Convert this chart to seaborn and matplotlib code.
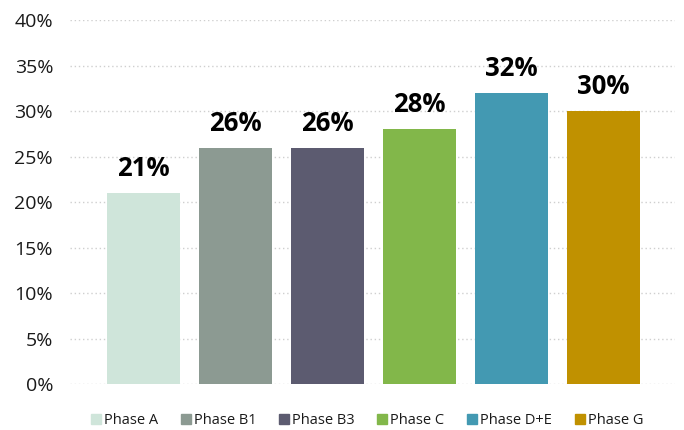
import matplotlib
matplotlib.use("Agg")
import matplotlib.pyplot as plt
import seaborn as sns
import pandas as pd
from matplotlib.lines import Line2D
from matplotlib.ticker import FuncFormatter

categories = ["Phase A", "Phase B1", "Phase B3", "Phase C", "Phase D+E", "Phase G"]
values = [21, 26, 26, 28, 32, 30]
colors = ["#CFE5DA", "#8C9A92", "#5C5B70", "#82B74A", "#4399B2", "#C09100"]
yticks = [0, 5, 10, 15, 20, 25, 30, 35, 40]

sns.set_style("white")
plt.rcParams["font.family"] = ["Open Sans", "DejaVu Sans"]

df = pd.DataFrame({"phase": categories, "value": values})

fig = plt.figure(figsize=(6.84, 4.30), dpi=100)
ax = fig.add_axes([0.102, 0.107, 0.885, 0.846])
sns.barplot(data=df, x="phase", y="value", hue="phase", palette=colors,
            order=categories, hue_order=categories, dodge=False, width=0.8,
            legend=False, ax=ax, saturation=1, linewidth=0, edgecolor="none")

ax.set_ylim(0, 40)
ax.set_xlim(-0.8, 5.78)
ax.set_yticks(yticks)
ax.yaxis.set_major_formatter(FuncFormatter(lambda v, p: f"{v:.0f}%"))
ax.tick_params(axis="y", labelsize=14, colors="#1a1a1a", length=0, pad=12)
ax.set_xticks([])
ax.set_xlabel("")
ax.set_ylabel("")
for s in ax.spines.values():
    s.set_visible(False)
ax.grid(axis="y", color="#cfcfcf", linestyle=(0, (1, 2)), linewidth=1.0)
ax.set_axisbelow(True)

for i, v in enumerate(values):
    ax.text(i, v + 1.2, f"{v}%", ha="center", va="bottom",
            fontsize=18.5, fontweight="bold", color="black")

handles = [Line2D([0], [0], marker="s", linestyle="", markersize=7.5,
                  markerfacecolor=c, markeredgecolor=c) for c in colors]
fig.legend(handles, categories, loc="center", bbox_to_anchor=(0.535, 0.022),
           ncol=6, frameon=False, fontsize=10.5, handletextpad=0.05,
           columnspacing=1.4, handlelength=1.0, labelcolor="#1a1a1a")

fig.savefig("out.png", dpi=100)
